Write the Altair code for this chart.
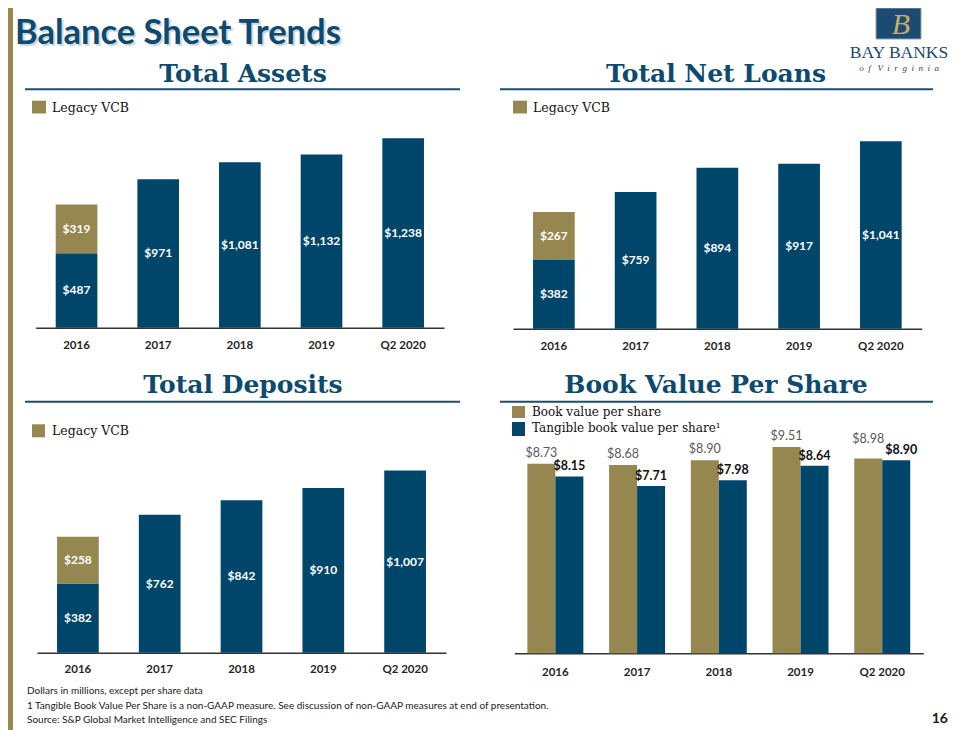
import altair as alt
import pandas as pd

# ---------------- data ----------------
years = ["2016", "2017", "2018", "2019", "Q2 2020"]
assets_bay = [487, 971, 1081, 1132, 1238]
assets_legacy = [319, 0, 0, 0, 0]
loans_bay = [382, 759, 894, 917, 1041]
loans_legacy = [267, 0, 0, 0, 0]
deposits_bay = [382, 762, 842, 910, 1007]
deposits_legacy = [258, 0, 0, 0, 0]
bv_per_share = [8.73, 8.68, 8.90, 9.51, 8.98]
tbv_per_share = [8.15, 7.71, 7.98, 8.64, 8.90]
bv_series = ["Book value per share", "Tangible book value per share"]
stack_parts = ["Bay Banks", "Legacy VCB"]

NAVY = "#00466B"
GOLD = "#968650"
TITLE = "#0E4A6E"
RULE = "#1D4D70"
W, H = 944, 722

one = alt.Data(values=[{"a": 1}])


def txt(s, x, y, size, font, color, weight="normal", align="left",
        baseline="alphabetic", style="normal", opacity=1.0):
    return alt.Chart(one).mark_text(
        text=s, fontSize=size, font=font, color=color, fontWeight=weight,
        align=align, baseline=baseline, fontStyle=style, opacity=opacity
    ).encode(x=alt.value(x), y=alt.value(y))


def rect(x0, x1, y0, y1, color, stroke=None):
    kw = dict(color=color)
    if stroke:
        kw.update(stroke=stroke, strokeWidth=1)
    return alt.Chart(one).mark_rect(**kw).encode(
        x=alt.value(x0), x2=alt.value(x1), y=alt.value(y0), y2=alt.value(y1))


def hrule(x0, x1, y, color=RULE, width=2):
    return alt.Chart(one).mark_rule(color=color, strokeWidth=width).encode(
        x=alt.value(x0), x2=alt.value(x1), y=alt.value(y))


def xaxis(base, pad):
    return alt.Axis(orient="bottom", offset=base - H, ticks=False, tickSize=0,
                    labelAngle=0, labelFont="Lato", labelFontWeight="bold",
                    labelFontSize=11.5, labelColor="#262626", labelPadding=pad,
                    domainColor="#333333", domainWidth=1.5, grid=False)


def stacked_panel(bay, legacy, x0, x1, base, ppu, ymax, pad):
    rows = []
    for yr, b, l in zip(years, bay, legacy):
        rows.append({"year": yr, "part": stack_parts[0], "ord": 0, "value": b})
        if l:
            rows.append({"year": yr, "part": stack_parts[1], "ord": 1, "value": l})
    df = pd.DataFrame(rows)
    src = alt.Chart(df).transform_stack(
        stack="value", groupby=["year"], sort=[alt.SortField("ord")], as_=["v0", "v1"]
    ).transform_calculate(
        mid="(datum.v0 + datum.v1) / 2",
        label="'$' + format(datum.value, ',')"
    )
    xenc = alt.X("year:N", sort=years, title=None,
                 scale=alt.Scale(range=[x0, x1], paddingInner=0.49, paddingOuter=0.245),
                 axis=xaxis(base, pad))
    yscale = alt.Scale(domain=[0, ymax], range=[base, base - ymax * ppu], nice=False, zero=True)
    bars = src.mark_bar().encode(
        x=xenc,
        y=alt.Y("v0:Q", scale=yscale, axis=None),
        y2="v1:Q",
        color=alt.Color("part:N", scale=alt.Scale(domain=stack_parts, range=[NAVY, GOLD]), legend=None),
    )
    labels = src.mark_text(font="Lato", fontWeight="bold", fontSize=12, color="white",
                           baseline="middle").encode(
        x=alt.X("year:N", sort=years),
        y=alt.Y("mid:Q"),
        text="label:N",
    )
    return alt.layer(bars, labels)


# chart coords = page coords - 8
assets = stacked_panel(assets_bay, assets_legacy, 27.7, 436, 319.7, 0.153, 1400, 12)
loans = stacked_panel(loans_bay, loans_legacy, 505, 913.7, 320.7, 0.180, 1200, 12)
deposits = stacked_panel(deposits_bay, deposits_legacy, 29, 438, 644.7, 0.181, 1100, 11)

# Book value per share panel
bv_df = pd.DataFrame({
    "year": years * 2,
    "series": [bv_series[0]] * len(years) + [bv_series[1]] * len(years),
    "v": bv_per_share + tbv_per_share,
})
bsrc = alt.Chart(bv_df).transform_calculate(label="'$' + format(datum.v, '.2f')")
b_base = 645.3
b_x = alt.X("year:N", sort=years, title=None,
            scale=alt.Scale(range=[506.3, 915.3], paddingInner=0.315, paddingOuter=0.16),
            axis=xaxis(b_base, 13))
b_y = alt.Y("v:Q", axis=None,
            scale=alt.Scale(domain=[0, 10], range=[b_base, b_base - 217], nice=False, zero=True))
b_bars = bsrc.mark_bar().encode(
    x=b_x,
    xOffset=alt.XOffset("series:N", sort=bv_series, scale=alt.Scale(paddingInner=0, paddingOuter=0)),
    y=b_y,
    color=alt.Color("series:N", scale=alt.Scale(domain=bv_series, range=[GOLD, NAVY]), legend=None),
)
last = years[-1]
is_bv = alt.datum.series == bv_series[0]
is_tbv = alt.datum.series == bv_series[1]
is_last = alt.datum.year == last
bv_style = dict(font="Lato", fontSize=12.5, color="#595959", baseline="alphabetic")
tbv_style = dict(font="Lato", fontSize=12.5, fontWeight="bold", color="#111111", baseline="alphabetic")
lab_enc = dict(x=alt.X("year:N", sort=years), y="v:Q", text="label:N")
b_lab1 = bsrc.transform_filter(is_bv & ~is_last).mark_text(dx=-14, dy=-7, **bv_style).encode(**lab_enc)
b_lab1b = bsrc.transform_filter(is_bv & is_last).mark_text(dx=-14, dy=-15, **bv_style).encode(**lab_enc)
b_lab2 = bsrc.transform_filter(is_tbv & ~is_last).mark_text(dx=14, dy=-6, **tbv_style).encode(**lab_enc)
b_lab2b = bsrc.transform_filter(is_tbv & is_last).mark_text(dx=19, dy=-6, **tbv_style).encode(**lab_enc)
bvps = alt.layer(b_bars, b_lab1, b_lab1b, b_lab2, b_lab2b)

SERIF = "DejaVu Serif"
NB = "\u00a0"
virginia = (NB * 2).join(["o", "f"]) + NB * 3 + (NB * 2).join(list("Virginia"))
annotations = [
    rect(0, 5, 0, H, "#9A8A4E"),
    # main title with soft shadow
    txt("Balance Sheet Trends", 9, 38, 34.5, "Lato", "#9aa9b5", weight="bold", opacity=0.45),
    txt("Balance Sheet Trends", 7, 36, 34.5, "Lato", TITLE, weight="bold"),
    # logo
    rect(868, 913, 0, 31, "#1C4A70", stroke="#8FA3B8"),
    txt("B", 893, 26, 30, "Liberation Serif", "#C5AE6B", align="center", style="italic"),
    txt("BAY BANKS", 891, 50, 17.5, "Liberation Serif", "#1D4A70", align="center"),
    txt(virginia, 891, 63, 9, "Liberation Serif", "#1D4A70", align="center", style="italic"),
    # panel titles & rules
    txt("Total Assets", 235, 74, 25, SERIF, TITLE, weight="bold", align="center"),
    txt("Total Net Loans", 708, 74, 25, SERIF, TITLE, weight="bold", align="center"),
    txt("Total Deposits", 235, 385, 25, SERIF, TITLE, weight="bold", align="center"),
    txt("Book Value Per Share", 708, 385, 25, SERIF, TITLE, weight="bold", align="center"),
    hrule(17, 452, 81.3),
    hrule(492, 925, 81.3),
    hrule(17, 452, 393.7),
    hrule(492, 925, 393.7),
    # legends
    rect(24, 38, 92.7, 105.5, GOLD),
    txt("Legacy VCB", 44, 104, 12.5, SERIF, "#111111"),
    rect(505, 519, 92.7, 105.5, GOLD),
    txt("Legacy VCB", 525, 104, 12.5, SERIF, "#111111"),
    rect(24, 37, 416.3, 429.3, GOLD),
    txt("Legacy VCB", 44, 427, 12.5, SERIF, "#111111"),
    rect(504, 517, 398, 410, GOLD),
    txt("Book value per share", 524, 408, 12, SERIF, "#111111"),
    rect(504, 517, 414, 428, NAVY),
    txt("Tangible book value per share\u00b9", 524, 424, 12, SERIF, "#111111"),
    # footer
    txt("Dollars in millions, except per share data", 19, 685.5, 10, "Lato", "#1a1a1a"),
    txt("1 Tangible Book Value Per Share is a non-GAAP measure. See discussion of non-GAAP measures at end of presentation.",
        19, 700.5, 10, "Lato", "#1a1a1a"),
    txt("Source: S&P Global Market Intelligence and SEC Filings", 19, 714.5, 10, "Lato", "#1a1a1a"),
    txt("16", 940, 715, 14, "Lato", "#1a1a1a", weight="bold", align="right"),
]

chart = alt.layer(
    *annotations, assets, loans, deposits, bvps
).resolve_scale(
    x="independent", y="independent", color="independent", xOffset="independent"
).properties(
    width=W, height=H, padding=0, autosize=alt.AutoSizeParams(type="none")
).configure_view(strokeWidth=0)

chart.save("out.html", embed_options={"renderer": "svg", "actions": False})
